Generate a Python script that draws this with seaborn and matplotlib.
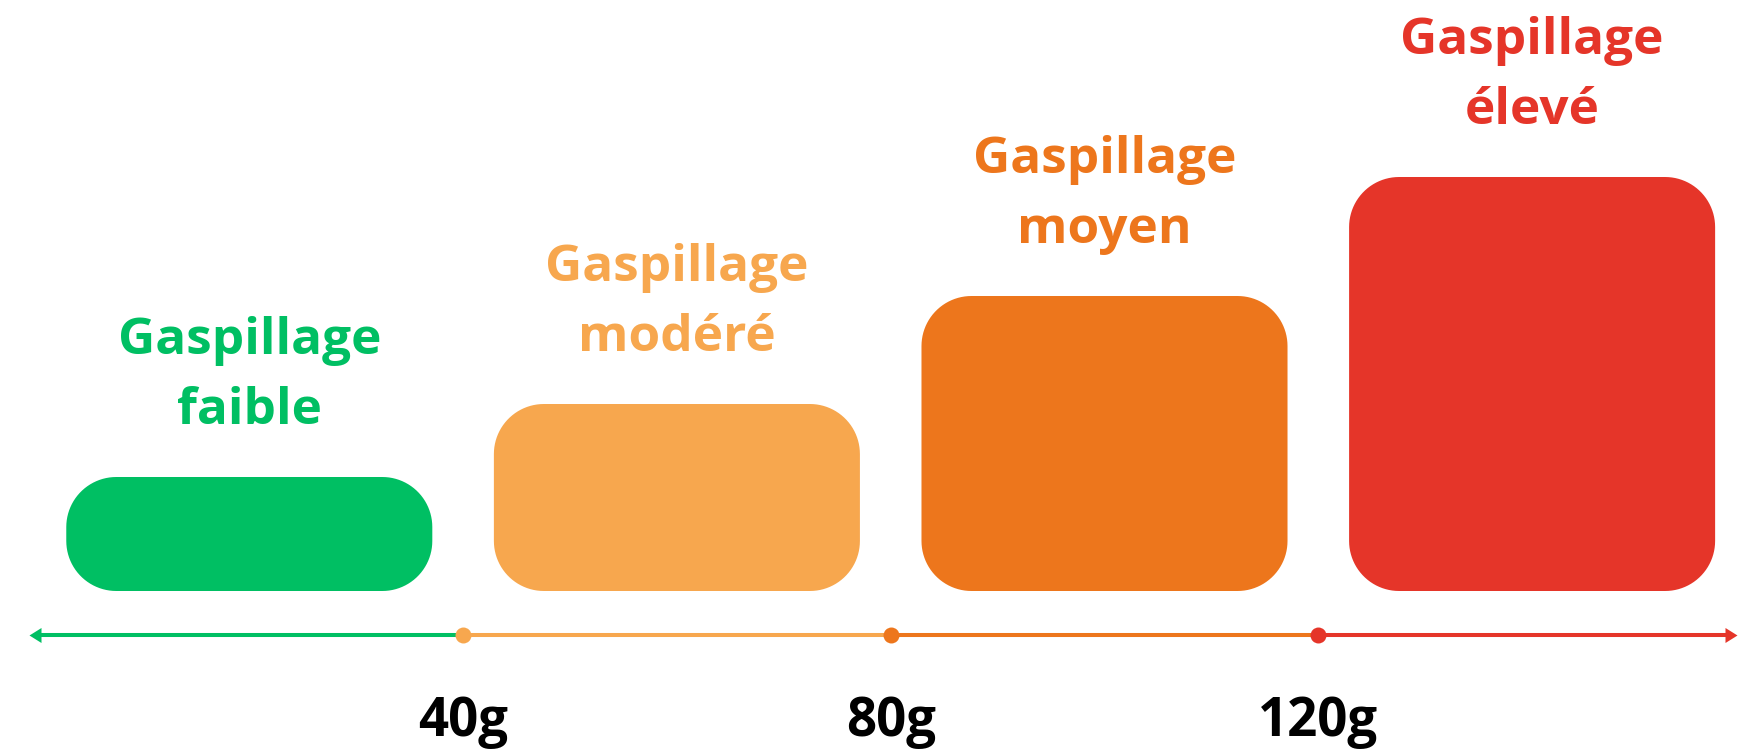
import matplotlib
matplotlib.use("Agg")
import matplotlib.pyplot as plt
import numpy as np
import pandas as pd
import seaborn as sns
from matplotlib.patches import Polygon

# ---------------- data ----------------
categories = ["Gaspillage faible", "Gaspillage modéré", "Gaspillage moyen", "Gaspillage élevé"]
title_line1 = ["Gaspillage", "Gaspillage", "Gaspillage", "Gaspillage"]
title_line2 = ["faible", "modéré", "moyen", "élevé"]
bin_edges = [0, 40, 80, 120, 160]          # grams
bar_levels = [114, 187, 295, 414]          # relative level (bar height)
tick_values = [40, 80, 120]
tick_labels = ["40g", "80g", "120g"]
colors = ["#00BF63", "#F7A74E", "#ED761C", "#E53529"]

centres = [(a + b) / 2 for a, b in zip(bin_edges[:-1], bin_edges[1:])]
df = pd.DataFrame({"categorie": categories, "centre": centres, "niveau": bar_levels})

# ---------------- figure ----------------
sns.set_theme(style="white")
plt.rcParams["font.family"] = ["Open Sans", "DejaVu Sans"]

fig = plt.figure(figsize=(17.52, 7.49), dpi=100)
ax = fig.add_axes([0, 0, 1, 1])
ax.set_xlim(-3.32, 160.57)
ax.set_ylim(-158, 591)
ax.axis("off")

sns.barplot(data=df, x="centre", y="niveau", hue="categorie", palette=colors,
            hue_order=categories, native_scale=True, width=0.856, dodge=False,
            saturation=1, legend=False, ax=ax)
ax.set_xlim(-3.32, 160.57)
ax.set_ylim(-158, 591)

# replace bars with rounded bars (circular corners in pixel space)
fig.canvas.draw()
px_x = ax.transData.transform((1, 0))[0] - ax.transData.transform((0, 0))[0]
px_y = ax.transData.transform((0, 1))[1] - ax.transData.transform((0, 0))[1]
radius_px = 50


def rounded_rect(x0, y0, w, h, r):
    rx = min(r / px_x, w / 2)
    ry = min(r / px_y, h / 2)
    x1, y1 = x0 + w, y0 + h
    t = np.linspace(0, np.pi / 2, 24)
    pts = []
    # bottom-right corner
    for a in t:
        pts.append((x1 - rx + rx * np.sin(a), y0 + ry - ry * np.cos(a)))
    # top-right
    for a in t:
        pts.append((x1 - rx + rx * np.cos(a), y1 - ry + ry * np.sin(a)))
    # top-left
    for a in t:
        pts.append((x0 + rx - rx * np.sin(a), y1 - ry + ry * np.cos(a)))
    # bottom-left
    for a in t:
        pts.append((x0 + rx - rx * np.cos(a), y0 + ry - ry * np.sin(a)))
    return pts


for p in list(ax.patches):
    x0, y0 = p.get_x(), p.get_y()
    w, h = p.get_width(), p.get_height()
    if h <= 0:
        continue
    fc = p.get_facecolor()
    p.remove()
    ax.add_patch(Polygon(rounded_rect(x0, y0, w, h, radius_px), closed=True,
                         facecolor=fc, edgecolor="none", zorder=2))

# titles above bars
for c, lvl, l1, l2, col in zip(centres, bar_levels, title_line1, title_line2, colors):
    ax.text(c, lvl + 123, l1, ha="center", va="baseline", fontsize=37,
            fontweight="bold", color=col)
    ax.text(c, lvl + 53, l2, ha="center", va="baseline", fontsize=37,
            fontweight="bold", color=col)

# axis with coloured segments
axis_y = -44
seg_edges = [bin_edges[0], *tick_values, 158.6]
for i in range(len(colors)):
    ax.plot([seg_edges[i], seg_edges[i + 1]], [axis_y, axis_y], color=colors[i],
            lw=2.9, solid_capstyle="butt", zorder=3)
for t, col in zip(tick_values, colors[1:]):
    ax.plot([t], [axis_y], marker="o", ms=11.5, color=col, mec="none", zorder=4)

right_head = [(-0.8, -1), (0.8, 0), (-0.8, 1)]
left_head = [(0.8, -1), (-0.8, 0), (0.8, 1)]
ax.plot([seg_edges[0]], [axis_y], marker=left_head, ms=10.8, color=colors[0], mec="none", zorder=4)
ax.plot([seg_edges[-1]], [axis_y], marker=right_head, ms=10.8, color=colors[-1], mec="none", zorder=4)

for t, lab in zip(tick_values, tick_labels):
    ax.text(t, -145, lab, ha="center", va="baseline", fontsize=38,
            fontweight="bold", color="black")

fig.savefig("out.png", dpi=100)
